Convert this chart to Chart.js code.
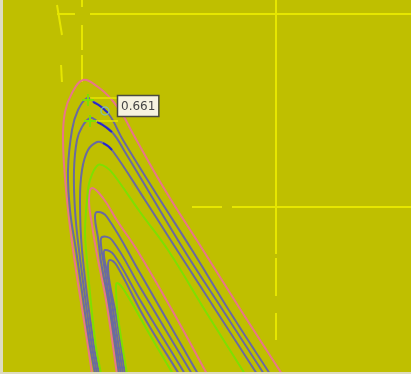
<!DOCTYPE html>
<html>
<head>
<meta charset="utf-8">
<script src="https://cdn.jsdelivr.net/npm/chart.js@4/dist/chart.umd.min.js"></script>
<style>
  html, body { margin: 0; padding: 0; background: #bfbf00; overflow: hidden; }
  #wrap { position: relative; width: 411px; height: 374px; }
  #edge-left { position: absolute; left: 0; top: 0; width: 3px; height: 374px; background: #dedcc0; }
  #edge-bottom { position: absolute; left: 0; bottom: 0; width: 411px; height: 2px; background: #dedcc0; }
</style>
</head>
<body>
<div id="wrap">
  <canvas id="chart"></canvas>
  <div id="edge-left"></div>
  <div id="edge-bottom"></div>
</div>
<script>
// outer family of curves (x, y)
const outerPink   = [[92,374],[87,340],[73,250],[66,190],[63,140],[65,112],[72,93],[83,80],[98,87],[112,100],[124,117],[132,132],[165,190],[203,250],[242,312],[282,374]];
const outerPurA   = [[95,374],[89,340],[76,250],[70,210],[68,170],[72,130],[78,110],[87,98],[93,101],[108,113],[123,140],[157,195],[192,250],[230,312],[270,374]];
const outerPurB   = [[97,374],[91,340],[79,250],[75,210],[74,170],[77,140],[82,127],[90,118],[97,121],[112,132],[125,152],[184,250],[224,312],[264,374]];
const outerPurC   = [[99,374],[93,340],[82,250],[80,200],[82,170],[88,150],[97,142],[103,143],[112,150],[145,200],[177,250],[217,312],[257,374]];
const outerGreen  = [[101,374],[95,340],[86,250],[85,230],[87,200],[90,180],[98,165],[106,167],[114,175],[140,212],[168,250],[206,312],[245,374]];
// inner family
const innerPink   = [[117,374],[106,300],[97,255],[92,225],[89,200],[92,188],[103,198],[118,222],[137,250],[172,310],[207,374]];
const innerPurD   = [[119,374],[109,305],[101,262],[98,238],[95,218],[97,212],[107,217],[140,273],[198,374]];
const innerPurE   = [[121,374],[111,310],[104,265],[101,245],[102,237],[112,240],[140,287],[192,374]];
const innerPurF   = [[123,374],[113,310],[107,272],[104,256],[105,250],[114,255],[140,300],[185,374]];
const innerPurG   = [[125,374],[116,315],[110,285],[108,266],[110,260],[117,266],[144,317],[179,374]];
const innerGreen  = [[127,374],[118,317],[116,290],[117,283],[124,290],[150,335],[173,374]];
// highlighted pieces near the crest
const blueMarks   = [[[93,102],[100,106],[108,113]], [[97,122],[104,126],[112,132]], [[103,143],[108,146],[112,150]]];
const crossMarks  = [[88,100],[90,121]];
const probeRing   = [[105,111]];
// yellow guide lines, each dash is [from, to]
const guideTop    = { y: 14,  dashes: [[57,75],[90,411]] };
const guideMid    = { y: 207, dashes: [[192,222],[232,411]] };
const guideV1     = { x: 82,  dashes: [[0,7],[25,50],[55,82]] };
const guideV2     = { x: 276, dashes: [[0,254],[258,296],[313,340]] };
const guideSlant  = [[[57,5],[62,35]], [[61,65],[62,82]]];
const leaders     = [{ y: 98, from: 90, to: 118 }, { y: 121, from: 92, to: 118 }];
const tagValue    = '0.661';
const tagAt       = [117, 95];

const PINK = '#e8768a', PURPLE = '#6a6aa0', GREEN = '#7ee000', YELLOW = '#e6e600', BLUE = '#2828c8';

const pts = arr => arr.map(p => ({ x: p[0], y: p[1] }));
const curve = (arr, color) => ({ data: pts(arr), borderColor: color, borderWidth: 2, showLine: true, pointRadius: 0, tension: 0.4, fill: false });
const seg = (arr, color, w) => ({ data: pts(arr), borderColor: color, borderWidth: w, showLine: true, pointRadius: 0, tension: 0.3, fill: false });

// chart.js paints dataset 0 last, so the top layer goes in first
const datasets = [];
datasets.push({ data: pts(crossMarks), showLine: false, pointStyle: 'cross', pointRadius: 6, borderColor: GREEN, borderWidth: 2 });
datasets.push({ data: pts(probeRing), showLine: false, pointStyle: 'circle', pointRadius: 4, borderColor: 'rgba(120,190,200,0.8)', backgroundColor: 'rgba(0,0,0,0)', borderWidth: 1.5 });
blueMarks.forEach(b => datasets.push(seg(b, BLUE, 2)));
leaders.forEach(l => datasets.push(seg([[l.from, l.y], [l.to, l.y]], YELLOW, 1.5)));

datasets.push(curve(outerGreen, GREEN));
[outerPurC, outerPurB, outerPurA].forEach(c => datasets.push(curve(c, PURPLE)));
datasets.push(curve(outerPink, PINK));
datasets.push(curve(innerGreen, GREEN));
[innerPurG, innerPurF, innerPurE, innerPurD].forEach(c => datasets.push(curve(c, PURPLE)));
datasets.push(curve(innerPink, PINK));

[guideTop, guideMid].forEach(g => g.dashes.forEach(d => datasets.push(seg([[d[0], g.y], [d[1], g.y]], YELLOW, 2))));
[guideV1, guideV2].forEach(g => g.dashes.forEach(d => datasets.push(seg([[g.x, d[0]], [g.x, d[1]]], YELLOW, 2))));
guideSlant.forEach(s => datasets.push(seg(s, YELLOW, 2)));

const bgPlugin = {
  id: 'bg',
  beforeDraw(chart) {
    const c = chart.ctx;
    c.save(); c.fillStyle = '#bfbf00'; c.fillRect(0, 0, chart.width, chart.height); c.restore();
  },
  afterDraw(chart) {
    const c = chart.ctx, xs = chart.scales.x, ys = chart.scales.y;
    const x = xs.getPixelForValue(tagAt[0]), y = ys.getPixelForValue(tagAt[1]);
    c.save();
    c.font = '12px "DejaVu Sans", sans-serif';
    const w = c.measureText(tagValue).width + 7;
    c.fillStyle = '#f6f2e0';
    c.fillRect(x, y, w, 21);
    c.strokeStyle = '#4a4a40'; c.lineWidth = 1.5;
    c.strokeRect(x + 0.5, y + 0.5, w, 21);
    c.fillStyle = '#454545'; c.textBaseline = 'middle';
    c.fillText(tagValue, x + 4, y + 11.5);
    c.restore();
  }
};

new Chart(document.getElementById('chart'), {
  type: 'scatter',
  data: { datasets },
  options: {
    responsive: true,
    maintainAspectRatio: false,
    animation: false,
    layout: { padding: 0, autoPadding: false },
    clip: false,
    plugins: { legend: { display: false }, tooltip: { enabled: false } },
    scales: {
      x: { type: 'linear', min: 0, max: 411, display: false },
      y: { type: 'linear', min: 0, max: 374, reverse: true, display: false },
    },
  },
  plugins: [bgPlugin],
});
</script>
</body>
</html>
